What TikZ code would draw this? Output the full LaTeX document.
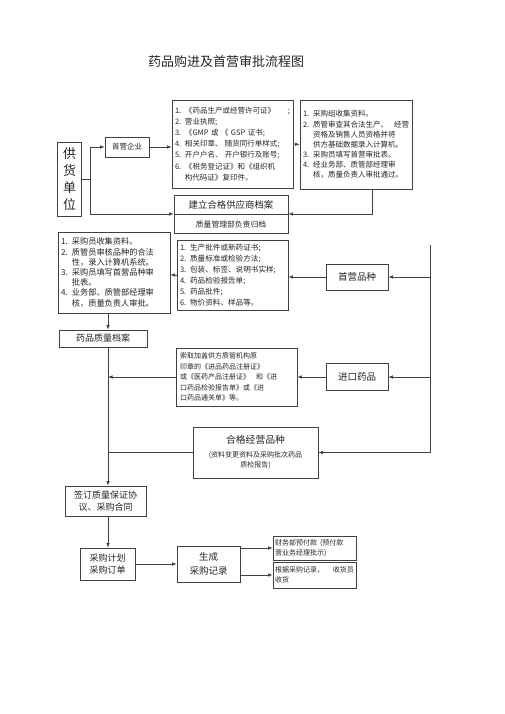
\documentclass[tikz,border=0pt]{standalone}
\usepackage{fontspec}
\setmainfont{Noto Sans CJK SC}
\usetikzlibrary{arrows.meta}
\tikzset{
  box/.style={draw=black!75, line width=0.6pt, inner sep=0pt, text=black!85},
  listbox/.style={box, inner xsep=3pt, align=left},
  cbox/.style={box, align=center},
  conn/.style={draw=black!75, line width=0.7pt},
  arr/.style={conn, -{Latex[length=4.5pt,width=3.5pt]}},
  lbl/.style={inner sep=0pt, text=black!85},
}
\newcommand\ind{\hphantom{1. }}
\begin{document}
\begin{tikzpicture}[x=1pt,y=-1pt]
\useasboundingbox (0,0) rectangle (505,714);
\fill[white] (0,0) rectangle (505,714);

\node[lbl, font=\fontsize{13}{15}\selectfont] (title) at (226,62) {药品购进及首营审批流程图};

\node[cbox, minimum width=24, minimum height=73, line width=1pt, font=\fontsize{13}{17}\selectfont] (supplier) at (69.5,179.5) {供\\货\\单\\位};
\node[cbox, minimum width=44, minimum height=20, font=\fontsize{7.5}{9}\selectfont] (firm) at (127,147) {首营企业};

\node[listbox, minimum width=121, minimum height=88, text width=115, font=\fontsize{7.5}{11.1}\selectfont] (box1) at (232.5,144) {1. 《药品生产或经营许可证》\hfill;\\2. 营业执照;\\3. 《GMP 或 《 GSP 证书;\\4. 相关印章、 随货同行单样式;\\5. 开户户名、 开户银行及账号;\\6. 《税务登记证》和《组织机\\\ind 构代码证》复印件。};

\node[listbox, minimum width=112, minimum height=89, text width=106, font=\fontsize{7.5}{10.1}\selectfont] (box2) at (356,144.5) {1. 采购组收集资料。\\2. 质管审查其合法生产、\hfill 经营\\\ind 资格及销售人员资格并将\\\ind 供方基础数据录入计算机。\\3. 采购员填写首营审批表。\\4. 经业务部、质管部经理审\\\ind 核，质量负责人审批通过。};

\node[box, minimum width=114, minimum height=38] (archive) at (231,214) {};
\draw[conn] (archive.west) -- (archive.east);
\node[lbl, font=\fontsize{9.4}{11}\selectfont] (archiveA) at (231,205) {建立合格供应商档案};
\node[lbl, font=\fontsize{7.8}{9}\selectfont] (archiveB) at (231,225) {质量管理部负责归档};

\node[listbox, minimum width=112, minimum height=81, text width=106, font=\fontsize{8.2}{10.2}\selectfont] (prod) at (114,272.5) {1. 采购员收集资料。\\2. 质管员审核品种的合法\\\ind 性，录入计算机系统。\\3. 采购员填写首营品种审\\\ind 批表。\\4. 业务部、质管部经理审\\\ind 核，质量负责人审批。};

\node[listbox, minimum width=111, minimum height=70, text width=105, font=\fontsize{7.6}{11}\selectfont] (mid) at (232.5,275) {1. 生产批件或新药证书;\\2. 质量标准或检验方法;\\3. 包装、标签、说明书实样;\\4. 药品检验报告单;\\5. 药品批件;\\6. 物价资料、样品等。};

\node[cbox, minimum width=62, minimum height=26, font=\fontsize{9.5}{11}\selectfont] (firstvar) at (357,277) {首营品种};

\node[cbox, minimum width=88, minimum height=17, font=\fontsize{9}{11}\selectfont] (qarch) at (103,338.5) {药品质量档案};

\node[box, inner xsep=4pt, align=left, minimum width=121, minimum height=58, text width=113, font=\fontsize{7}{10.5}\selectfont] (impt) at (236.5,377) {索取加盖供方质管机构原\\印章的《进品药品注册证》\\或《医药产品注册证》\hspace{6pt}和《进\\口药品检验报告单》或《进\\口药品通关单》等。};

\node[cbox, minimum width=62, minimum height=27, font=\fontsize{9.5}{11}\selectfont] (importbox) at (357,377) {进口药品};

\node[cbox, minimum width=125, minimum height=51, font=\fontsize{7}{10.5}\selectfont] (qual) at (255.5,452.5) {{\fontsize{9.8}{12}\selectfont 合格经营品种}\\[3pt](资料变更资料及采购批次药品\\质检报告)};

\node[cbox, minimum width=81, minimum height=30, font=\fontsize{9}{12.5}\selectfont] (sign) at (105.5,501) {签订质量保证协\\议、采购合同};
\node[cbox, minimum width=55, minimum height=32, font=\fontsize{9}{12.5}\selectfont] (plan) at (107.5,564) {采购计划\\采购订单};
\node[cbox, minimum width=63, minimum height=36, font=\fontsize{9.5}{14}\selectfont] (gen) at (208.5,564) {生成\\采购记录};

\node[box, inner xsep=2pt, align=left, minimum width=83, minimum height=24, text width=79, font=\fontsize{7}{10}\selectfont] (fin) at (314.5,548) {财务部预付款\hspace{3pt}(预付款\\营业务经理批示)};
\node[box, inner xsep=2pt, align=left, minimum width=83, minimum height=26, text width=79, font=\fontsize{7}{10}\selectfont] (recv) at (314.5,575) {根据采购记录，\hfill 收货员\\收货};

% connectors
\coordinate (spine) at (108,0);
\coordinate (j1) at (90,179.5);
\coordinate (t0) at (430,245);
\coordinate (t1) at (430,277);
\coordinate (t3) at (430,452.5);

\draw[conn] (supplier.east) -- (j1);
\draw[arr] (j1) |- (firm.west);
\draw[arr] (j1) |- (archive.west);
\draw[arr] (firm.east) -- (firm.east -| box1.west);
\draw[arr] (box1.east) -- (box2.west);
\draw[arr] ([xshift=16pt]box2.south) |- (archive.east);

\draw[arr] (firstvar.west) -- (firstvar.west -| mid.east);
\draw[arr] (mid.west) -- (mid.west -| prod.east);
\draw[conn] (t0) -- (t3);
\draw[arr] (t1) -- (firstvar.east);
\draw[arr] (t1 |- importbox) -- (importbox.east);
\draw[arr] (t3) -- (qual.east);
\draw[arr] (importbox.west) -- (impt.east);

\draw[arr] (prod.south -| spine) -- (qarch.north -| spine);
\draw[arr] (qarch.south -| spine) -- (sign.north -| spine);
\draw[arr] (impt.west) -- (impt.west -| spine);
\draw[conn] (qual.west) -- (qual.west -| spine);
\draw[arr] (sign.south -| spine) -- (plan.north -| spine);
\draw[arr] (plan.east) -- (gen.west);
\draw[arr] (gen.east |- fin) -- (fin.west);
\draw[arr] (gen.east |- recv) -- (recv.west);
\end{tikzpicture}
\end{document}
